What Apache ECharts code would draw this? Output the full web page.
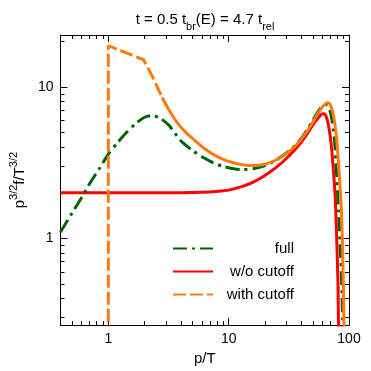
<!DOCTYPE html>
<html><head><meta charset="utf-8">
<script src="https://cdn.jsdelivr.net/npm/echarts@6/dist/echarts.min.js"></script>
<style>html,body{margin:0;padding:0;background:#fff}#c{width:371px;height:371px}</style>
</head><body><div id="c"></div>
<script>
// ---- data ----
const xMajorTicks = [1, 10, 100];
const xMinorTicks = [0.5, 0.6, 0.7, 0.8, 0.9, 2, 3, 4, 5, 6, 7, 8, 9, 20, 30, 40, 50, 60, 70, 80, 90];
const yMajorTicks = [1, 10];
const yMinorTicks = [0.3, 0.4, 0.5, 0.6, 0.7, 0.8, 0.9, 2, 3, 4, 5, 6, 7, 8, 9, 20];

const fullP = [0.4, 0.5, 0.6, 0.7, 0.85, 1.0, 1.2, 1.4, 1.7, 2.0, 2.3, 2.7, 3.2, 4.0, 5.0, 6.0, 7.5, 9.0, 11, 13, 16, 20, 25, 30, 35, 40, 45, 50, 55, 60, 64, 67, 70, 73, 76, 79, 82, 85, 87, 89, 91];
const fullV = [1.1, 1.47, 1.86, 2.3, 2.92, 3.6, 4.3, 4.95, 5.75, 6.3, 6.45, 6.2, 5.55, 4.4, 3.8, 3.45, 3.14, 2.98, 2.88, 2.84, 2.88, 3.02, 3.3, 3.65, 4.05, 4.55, 5.2, 6.0, 6.8, 7.45, 7.65, 7.45, 6.8, 5.7, 4.3, 2.6, 1.5, 0.8, 0.5, 0.25, 0.1];

const woP = [0.4, 1, 2, 4, 6, 8, 10, 13, 16, 20, 25, 30, 35, 40, 45, 50, 55, 59, 62, 65, 68, 71, 74, 77, 79, 81, 83];
const woV = [2.0, 2.0, 2.0, 2.0, 2.01, 2.04, 2.08, 2.2, 2.35, 2.6, 2.95, 3.35, 3.8, 4.3, 4.9, 5.6, 6.2, 6.6, 6.65, 6.3, 5.4, 4.2, 2.9, 1.8, 1.0, 0.5, 0.1];

const cutP1 = [1, 1, 1.96, 2.3, 2.8];
const cutV1 = [0.1, 18.7, 15.1, 11.9, 8.5];
const cutP2 = [2.8, 3.2, 3.8, 4.4, 5.2, 6.2, 7.5, 9, 11, 13, 16, 20, 25, 30, 35, 40, 45, 50, 55, 60, 64, 67, 70, 73, 76, 79, 81, 84, 86, 88, 90, 92];
const cutV2 = [8.5, 7.0, 5.7, 5.0, 4.45, 3.95, 3.57, 3.32, 3.15, 3.06, 3.02, 3.08, 3.3, 3.62, 4.0, 4.5, 5.1, 5.85, 6.65, 7.35, 7.75, 7.85, 7.6, 6.9, 5.8, 4.5, 3.5, 2.3, 1.7, 1.0, 0.45, 0.12];

const pairs = (xs, ys) => xs.map((x, i) => [x, ys[i]]);
const FONT = 'Liberation Sans, Arial, Helvetica, sans-serif';
const XMIN = 0.4, XMAX = 100, YMIN = 0.267, YMAX = 22;

function axis(kind, pos, major, labels, opts) {
  const base = {
    type: 'log', logBase: 10, position: pos,
    min: kind === 'x' ? XMIN : YMIN, max: kind === 'x' ? XMAX : YMAX,
    axisLine: { show: true, onZero: false, lineStyle: { color: '#000', width: 1 } },
    axisTick: { show: true, inside: true, length: major ? 7 : 4,
      customValues: major ? (kind === 'x' ? xMajorTicks : yMajorTicks) : (kind === 'x' ? xMinorTicks : yMinorTicks),
      lineStyle: { color: '#000', width: 1 } },
    axisLabel: labels ? { show: true, customValues: kind === 'x' ? xMajorTicks : yMajorTicks,
      formatter: v => String(Math.round(v)), color: '#000', fontSize: 14, fontFamily: FONT, margin: 7 } : { show: false },
    splitLine: { show: false }, minorTick: { show: false }
  };
  return Object.assign(base, opts || {});
}

const chart = echarts.init(document.getElementById('c'), null, { renderer: 'canvas' });
chart.setOption({
  animation: false,
  backgroundColor: '#fff',
  title: {
    text: '{a|t = 0.5 t}{s|br}{a|(E) = 4.7 t}{s|rel}',
    left: 200, textAlign: 'center', top: 7,
    textStyle: { fontWeight: 'normal', rich: {
      a: { fontSize: 15, fontFamily: FONT, fontWeight: 'normal', color: '#000', lineHeight: 17, verticalAlign: 'top' },
      s: { fontSize: 11, fontFamily: FONT, fontWeight: 'normal', color: '#000', lineHeight: 20, verticalAlign: 'bottom' }
    } }
  },
  grid: { left: 52, right: 22, top: 35, bottom: 38 },
  legend: {
    orient: 'vertical', left: 167, top: 236, itemWidth: 40, itemHeight: 14, itemGap: 8,
    selectedMode: false,
    itemStyle: { opacity: 0, borderWidth: 0 },
    data: ['full', 'w/o cutoff', 'with cutoff'],
    formatter: n => '{r|' + n + '}',
    textStyle: { rich: { r: { width: 76, align: 'right', fontSize: 15, lineHeight: 15, fontFamily: FONT, color: '#000' } } }
  },
  xAxis: [
    axis('x', 'bottom', true, true, { name: 'p/T', nameLocation: 'middle', nameGap: 23,
      nameTextStyle: { fontSize: 15, fontFamily: FONT, color: '#000' } }),
    axis('x', 'bottom', false, false, { axisLine: { show: false } }),
    axis('x', 'top', true, false),
    axis('x', 'top', false, false, { axisLine: { show: false } })
  ],
  yAxis: [
    axis('y', 'left', true, true, { name: '{a|p}{u|3/2}{a|f/T}{u|3/2}', nameLocation: 'middle', nameGap: 24, nameRotate: 90,
      nameTextStyle: { rich: {
        a: { fontSize: 15, fontFamily: FONT, color: '#000', lineHeight: 19, verticalAlign: 'bottom' },
        u: { fontSize: 11, fontFamily: FONT, color: '#000', lineHeight: 11, verticalAlign: 'top' }
      } } }),
    axis('y', 'left', false, false, { axisLine: { show: false } }),
    axis('y', 'right', true, false),
    axis('y', 'right', false, false, { axisLine: { show: false } })
  ],
  series: [
    { name: 'full', type: 'line', data: pairs(fullP, fullV), symbol: 'none', smooth: 0.25, clip: true,
      itemStyle: { color: '#006400' }, lineStyle: { color: '#006400', width: 3, type: [14, 5, 3, 5] }, z: 3 },
    { name: 'w/o cutoff', type: 'line', data: pairs(woP, woV), symbol: 'none', smooth: 0.25, clip: true,
      itemStyle: { color: '#ff0000' }, lineStyle: { color: '#ff0000', width: 3 }, z: 2 },
    { name: 'with cutoff', type: 'line', data: pairs(cutP1, cutV1), symbol: 'none', clip: true,
      itemStyle: { color: '#ff7a10' }, lineStyle: { color: '#ff7a10', width: 3, type: [13, 4] }, z: 4 },
    { name: 'with cutoff', type: 'line', data: pairs(cutP2, cutV2), symbol: 'none', smooth: 0.25, clip: true,
      itemStyle: { color: '#ff7a10' }, lineStyle: { color: '#ff7a10', width: 3 }, z: 4 }
  ]
});
</script></body></html>
